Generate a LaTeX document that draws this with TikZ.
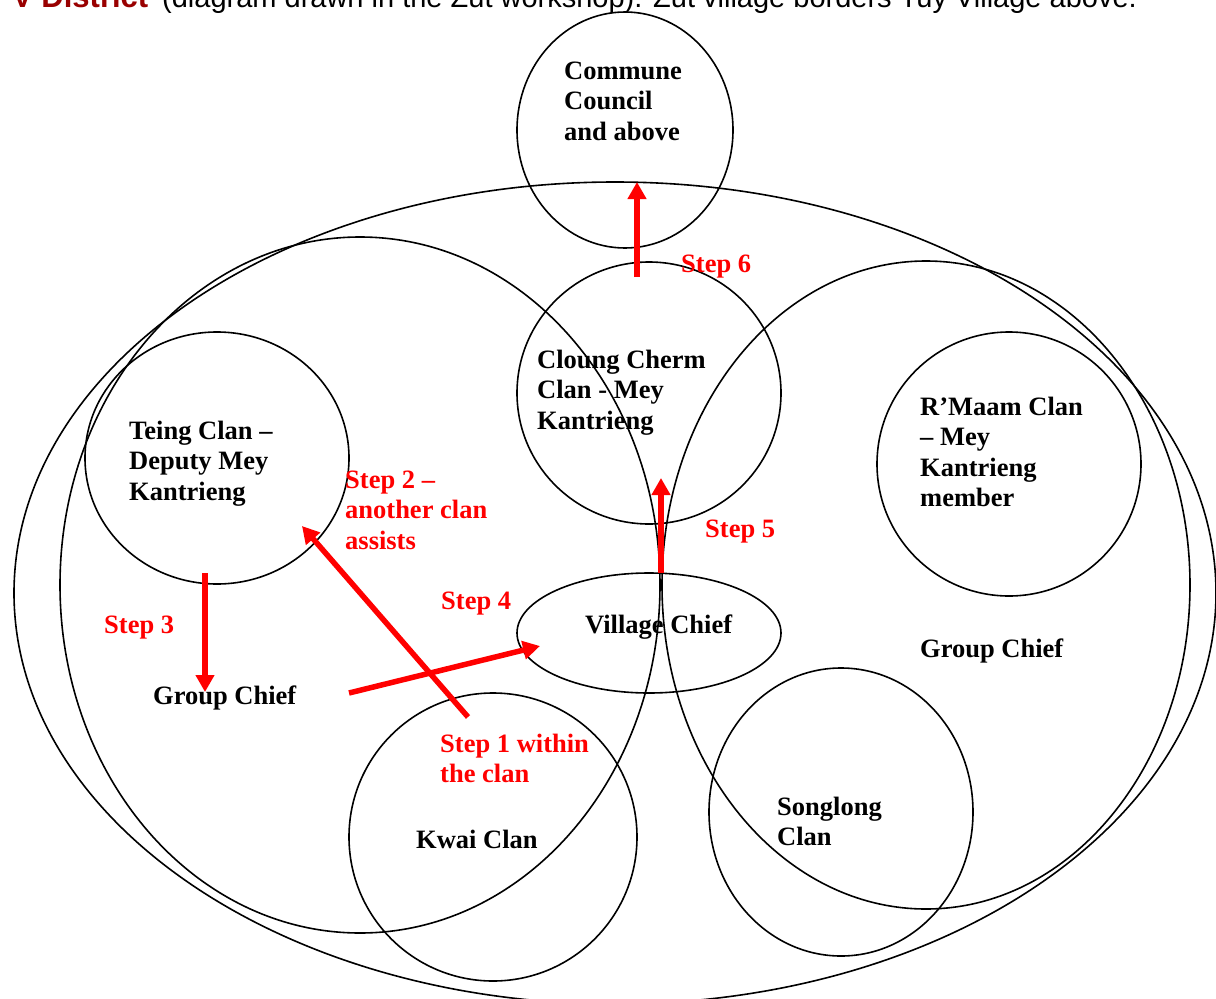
\documentclass[tikz,border=0pt]{standalone}
\usepackage{fontspec}
\setmainfont{Liberation Serif}
\newfontfamily\hdrfont{Liberation Sans}
\usetikzlibrary{shapes.geometric,arrows.meta}
\definecolor{hdrred}{HTML}{990000}
\newcommand\lblfont{\fontsize{26.5}{30.5}\selectfont\bfseries}
\newcommand\lines[1]{\begin{tabular}[t]{@{}l@{}}#1\end{tabular}}
\begin{document}
\begin{tikzpicture}[x=1pt,y=-1pt,
  ring/.style={draw=black,line width=1.6pt,ellipse,inner sep=0pt},
  lbl/.style={anchor=base west,inner sep=0pt,font=\lblfont},
  steplbl/.style={lbl,text=red},
  steparrow/.style={draw=red,line width=5.5pt,-{Triangle[length=17pt,width=18pt]}}]
\useasboundingbox (0,0) rectangle (1216,999);
\clip (0,0) rectangle (1216,999);
% header (cut off at top)
\node[anchor=base west,inner sep=0pt,text=hdrred,font=\hdrfont\fontsize{31}{31}\selectfont\bfseries] (hdrA) at (12,7) {V District};
\node[anchor=base west,inner sep=0pt,font=\hdrfont\fontsize{29}{29}\selectfont] (hdrB) at (162,7) {(diagram drawn in the Zut workshop). Zut village borders Tuy Village above.};
% shapes
\node[ring,minimum width=1202pt,minimum height=822pt] (village) at (615,593) {};
\node[ring,minimum width=600pt,minimum height=696pt] (leftgrp) at (360,585) {};
\node[ring,minimum width=528pt,minimum height=648pt] (rightgrp) at (926,585) {};
\node[ring,minimum width=216pt,minimum height=236pt] (commune) at (625,130) {};
\node[ring,minimum width=264pt,minimum height=262pt] (cloung) at (649,393) {};
\node[ring,minimum width=264pt,minimum height=252pt] (teing) at (217,458) {};
\node[ring,minimum width=264pt,minimum height=264pt] (rmaam) at (1009,464) {};
\node[ring,minimum width=264pt,minimum height=120pt] (chief) at (649,633) {};
\node[ring,minimum width=288pt,minimum height=288pt] (kwai) at (493,837) {};
\node[ring,minimum width=264pt,minimum height=288pt] (songlong) at (841,812) {};
% black labels
\node[lbl] (tcommune) at (564,79) {\lines{Commune\\Council\\and above}};
\node[lbl] (tcloung) at (537,368) {\lines{Cloung Cherm\\Clan - Mey\\Kantrieng}};
\node[lbl] (tteing) at (129,439) {\lines{Teing Clan –\\Deputy Mey\\Kantrieng}};
\node[lbl] (trmaam) at (920,415) {\lines{R’Maam Clan\\– Mey\\Kantrieng\\member}};
\node[lbl] (tchief) at (585,633) {Village Chief};
\node[lbl] (tgcl) at (153,704) {Group Chief};
\node[lbl] (tgcr) at (920,657) {Group Chief};
\node[lbl] (tkwai) at (416,848) {Kwai Clan};
\node[lbl] (tsong) at (777,815) {\lines{Songlong\\Clan}};
% red labels
\node[steplbl] (l6) at (681,272) {Step 6};
\node[steplbl] (l2) at (345,488) {\lines{Step 2 –\\another clan\\assists}};
\node[steplbl] (l4) at (441,609) {Step 4};
\node[steplbl] (l3) at (104,633) {Step 3};
\node[steplbl] (l5) at (705,537) {Step 5};
\node[steplbl] (l1) at (440,752) {\lines{Step 1 within\\the clan}};
% arrow end points
\coordinate (a6s) at (637,277); \coordinate (a6e) at (637,182);
\coordinate (a5s) at (661,573); \coordinate (a5e) at (661,478);
\coordinate (a4s) at (349,693); \coordinate (a4e) at (540,646);
\coordinate (a2s) at (468,717); \coordinate (a2e) at (302,526);
\coordinate (a3s) at (205,573); \coordinate (a3e) at (205,692);
\draw[steparrow] (a6s) -- (a6e);
\draw[steparrow] (a5s) -- (a5e);
\draw[steparrow] (a4s) -- (a4e);
\draw[steparrow] (a2s) -- (a2e);
\draw[steparrow] (a3s) -- (a3e);
\end{tikzpicture}
\end{document}
